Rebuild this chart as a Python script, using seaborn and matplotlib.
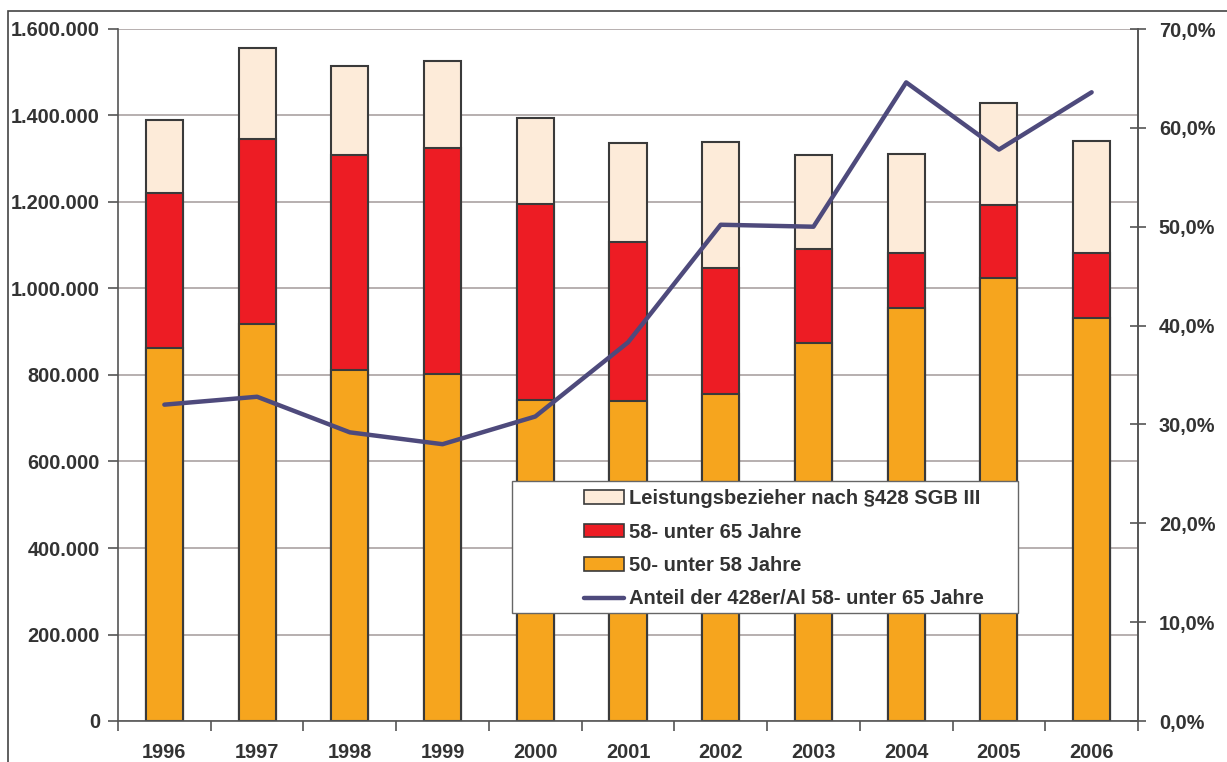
import numpy as np
import pandas as pd
import matplotlib
matplotlib.use("Agg")
import matplotlib.pyplot as plt
import seaborn as sns
from matplotlib.ticker import FuncFormatter, MultipleLocator
from matplotlib.patches import Patch, Rectangle
from matplotlib.lines import Line2D

years = ["1996", "1997", "1998", "1999", "2000", "2001", "2002", "2003", "2004", "2005", "2006"]
al_50_58 = [862000, 918000, 812000, 802000, 742000, 740000, 756000, 874000, 955000, 1024000, 932000]
al_58_65 = [359000, 428000, 497000, 523000, 453000, 367000, 291000, 217000, 127000, 169000, 150000]
bezieher_428 = [169000, 210000, 205000, 201000, 199000, 229000, 292000, 218000, 229000, 236000, 259000]
anteil_pct = [32.0, 32.8, 29.2, 28.0, 30.8, 38.3, 50.2, 50.0, 64.6, 57.8, 63.6]

labels = ["Leistungsbezieher nach §428 SGB III", "58- unter 65 Jahre",
          "50- unter 58 Jahre", "Anteil der 428er/Al 58- unter 65 Jahre"]

c_cream = "#FDEBD9"
c_red = "#ED1C24"
c_orange = "#F6A51E"
c_line = "#4E4A7C"
c_edge = "#3A3A3A"
c_text = "#333333"
c_grid = "#A39A9A"

sns.set_theme(style="white")
plt.rcParams['font.family'] = ['Liberation Sans', 'DejaVu Sans']
plt.rcParams['font.weight'] = 'bold'

df = pd.DataFrame({"year": years, "o": al_50_58, "r": al_58_65, "c": bezieher_428, "pct": anteil_pct})
df["top_r"] = df["o"] + df["r"]
df["top_c"] = df["top_r"] + df["c"]

W, H = 1227, 762
fig = plt.figure(figsize=(W / 100, H / 100), dpi=100)
ax = fig.add_axes([118/W, 1-721/H, (1138-118)/W, (721-29)/H])

kw = dict(ax=ax, width=0.4, edgecolor=c_edge, linewidth=1.5, zorder=2)
sns.barplot(data=df, x="year", y="top_c", color=c_cream, saturation=1, **kw)
sns.barplot(data=df, x="year", y="top_r", color=c_red, saturation=1, **kw)
sns.barplot(data=df, x="year", y="o", color=c_orange, saturation=1, **kw)

ax.set_ylim(0, 1600000)
ax.set_xlim(-0.5, len(years) - 0.5)
ax.yaxis.set_major_locator(MultipleLocator(200000))
ax.yaxis.set_major_formatter(FuncFormatter(lambda v, p: f"{int(v):,}".replace(",", ".")))
ax.grid(axis="y", color=c_grid, linewidth=1.1, zorder=0)
ax.set_axisbelow(True)
ax.set_xlabel("")
ax.set_ylabel("")
ax.spines["top"].set_visible(False)
for s in ["left", "bottom", "right"]:
    ax.spines[s].set_color("#555555")
    ax.spines[s].set_linewidth(1.2)
ax.tick_params(axis="y", which="major", direction="out", length=7, width=1.2, color="#555555",
               labelsize=14.3, labelcolor=c_text, pad=6, left=True)
ax.set_xticks(np.arange(len(years)))
ax.set_xticklabels(years)
ax.tick_params(axis="x", which="major", length=0, labelsize=14.3, labelcolor=c_text, pad=16)
ax.set_xticks(np.arange(-0.5, len(years), 1), minor=True)
ax.tick_params(axis="x", which="minor", direction="out", length=7, width=1.2, color="#555555", bottom=True)
for t in ax.get_xticklabels() + ax.get_yticklabels():
    t.set_fontweight("bold")

ax2 = ax.twinx()
sns.lineplot(data=df, x="year", y="pct", ax=ax2, color=c_line, linewidth=3.2, zorder=5, sort=False)
ax2.set_ylim(0, 70)
ax2.yaxis.set_major_locator(MultipleLocator(10))
ax2.yaxis.set_major_formatter(FuncFormatter(lambda v, p: f"{v:.1f}%".replace(".", ",")))
ax2.set_ylabel("")
ax2.set_xlabel("")
ax2.grid(False)
for s in ["top", "left", "bottom"]:
    ax2.spines[s].set_visible(False)
ax2.spines["right"].set_color("#555555")
ax2.spines["right"].set_linewidth(1.2)
ax2.tick_params(axis="y", direction="inout", length=12, width=1.2, color="#555555",
                labelsize=14.3, labelcolor=c_text, pad=9, right=True)
for t in ax2.get_yticklabels():
    t.set_fontweight("bold")
ax2.set_xlim(-0.5, len(years) - 0.5)

# legend box (white frame covering bars)
fig.patches.append(Rectangle((512/W, 1-613/H), (1018-512)/W, (613-481)/H, transform=fig.transFigure,
                             facecolor="white", edgecolor="#666666", linewidth=1.0, zorder=3))

handles = [Patch(facecolor=c_cream, edgecolor=c_edge, linewidth=1.2),
           Patch(facecolor=c_red, edgecolor=c_edge, linewidth=1.2),
           Patch(facecolor=c_orange, edgecolor=c_edge, linewidth=1.2),
           Line2D([0], [0], color=c_line, linewidth=3.2)]
leg = fig.legend(handles, labels, loc="upper left",
                 bbox_to_anchor=(584/W, 1-489/H),
                 frameon=False, prop={"size": 14.5, "weight": "bold"},
                 handlelength=2.0, handleheight=0.67, handletextpad=0.25,
                 labelspacing=0.72, borderpad=0.0, borderaxespad=0)
for t in leg.get_texts():
    t.set_color(c_text)
leg.set_zorder(10)

fig.patches.append(Rectangle((8/W, -0.1), 1.2, 1 - 11/H + 0.1, transform=fig.transFigure,
                             fill=False, edgecolor="#444444", linewidth=1.2, zorder=1))

fig.savefig("out.png", dpi=100)
